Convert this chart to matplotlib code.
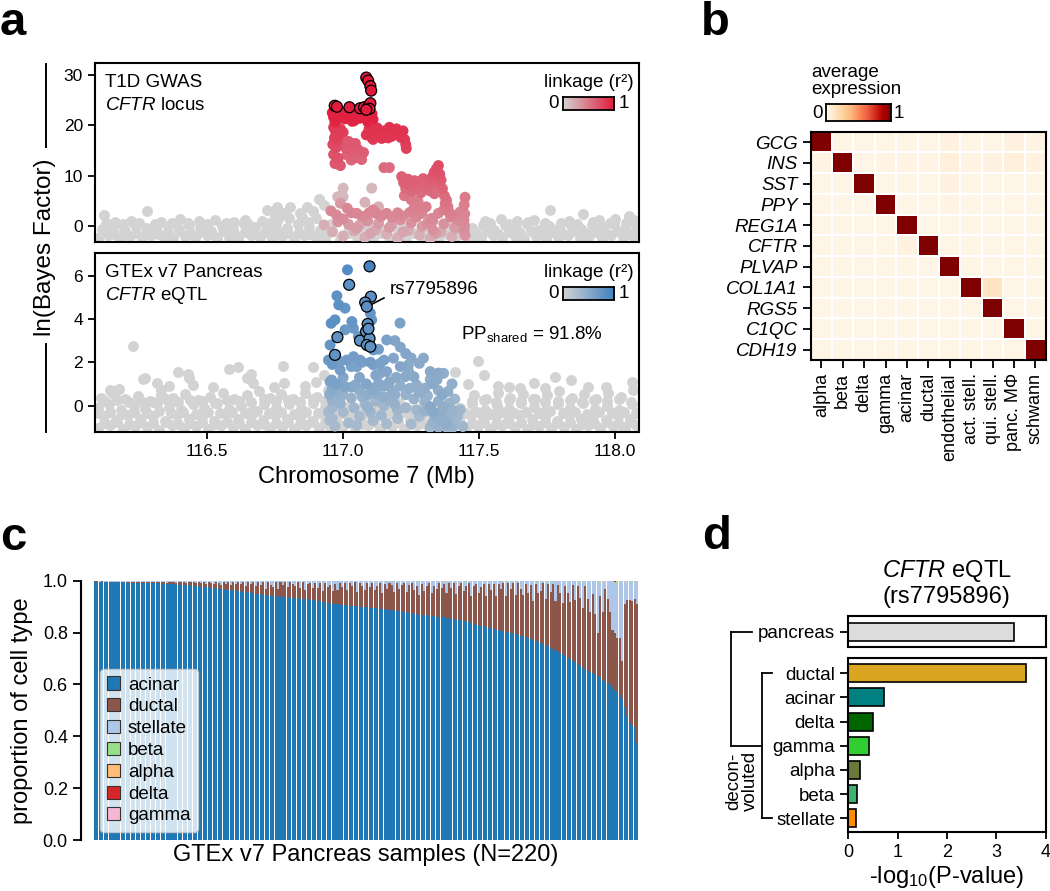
import matplotlib
matplotlib.use('Agg')
import numpy as np
import matplotlib.pyplot as plt
from matplotlib.colors import LinearSegmentedColormap
from matplotlib.patches import Patch
from matplotlib.lines import Line2D

plt.rcParams['font.family'] = ['Liberation Sans', 'DejaVu Sans']
plt.rcParams['mathtext.fontset'] = 'custom'
plt.rcParams['mathtext.rm'] = 'Liberation Sans'
plt.rcParams['mathtext.it'] = 'Liberation Sans:italic'
plt.rcParams['font.size'] = 13.5
plt.rcParams['axes.linewidth'] = 1.5
plt.rcParams['xtick.major.width'] = 1.3
plt.rcParams['ytick.major.width'] = 1.3
plt.rcParams['xtick.major.size'] = 5
plt.rcParams['ytick.major.size'] = 5

# ---------------- panel a data (Mb, ln BF) ----------------
gwas_background = [
    (116.100, -2.4), (116.135, -1.9), (116.180, -2.6), (116.215, -2.1), (116.260, -2.5),
    (116.295, -1.8), (116.340, -2.3), (116.375, -2.6), (116.420, -2.0), (116.455, -2.4),
    (116.500, -1.9), (116.535, -2.5), (116.580, -2.2), (116.615, -2.6), (116.660, -1.9),
    (116.695, -2.3), (116.740, -2.5), (116.775, -2.0), (116.820, -2.4), (116.855, -1.8),
    (116.900, -2.3), (116.935, -2.6), (116.990, -2.6), (117.050, -2.2), (117.110, -2.6),
    (117.170, -2.3), (117.230, -2.6), (117.290, -2.2), (117.350, -2.6), (117.410, -2.5),
    (117.470, -2.2), (117.505, -2.5), (117.550, -1.9), (117.585, -2.4), (117.630, -2.1),
    (117.665, -2.6), (117.710, -2.0), (117.745, -2.4), (117.790, -2.2), (117.825, -1.9),
    (117.870, -2.5), (117.905, -2.1), (117.950, -2.4), (117.985, -1.8), (118.030, -2.3),
    (118.065, -2.0),
    (116.118, -1.3), (116.158, -1.6), (116.198, -1.1), (116.238, -1.5), (116.278, -1.2),
    (116.318, -1.6), (116.358, -1.3), (116.398, -1.0), (116.438, -1.5), (116.478, -1.2),
    (116.518, -1.6), (116.558, -1.1), (116.598, -1.4), (116.638, -1.2), (116.678, -1.6),
    (116.718, -1.3), (116.758, -1.0), (116.798, -1.5), (116.838, -1.2), (116.878, -1.6),
    (116.918, -1.3), (116.958, -1.1), (117.490, -1.4), (117.530, -1.1), (117.570, -1.6),
    (117.610, -1.2), (117.650, -1.5), (117.690, -1.0), (117.730, -1.4), (117.770, -1.2),
    (117.810, -1.6), (117.850, -1.1), (117.890, -1.4), (117.930, -1.2), (117.970, -1.6),
    (118.010, -1.0), (118.050, -1.4), (118.085, -1.2), (117.020, -1.4), (117.080, -0.9),
    (117.140, -1.5), (117.200, -1.0), (117.260, -1.5), (117.320, -1.1), (117.380, -1.6),
    (117.440, -1.3),
    (116.115, -0.6), (116.155, -0.2), (116.195, -0.9), (116.235, 0.1), (116.275, -0.5),
    (116.315, -1.0), (116.355, -0.1), (116.395, -0.7), (116.435, 0.2), (116.475, -0.4),
    (116.515, -1.0), (116.555, 0.0), (116.595, -0.6), (116.635, 0.3), (116.675, -0.3),
    (116.715, -0.9), (116.755, 0.1), (116.795, -0.5), (116.835, 0.4), (116.875, -0.2),
    (116.915, -0.8), (116.955, 0.3), (117.020, -0.5), (117.100, 0.0), (117.140, -0.6),
    (117.220, -0.2), (117.300, -0.4), (117.380, 0.1), (117.420, -0.9), (117.475, -0.4),
    (117.515, 0.2), (117.555, -0.8), (117.595, 0.1), (117.635, -0.5), (117.675, 0.3),
    (117.715, -0.9), (117.755, 0.0), (117.795, -0.4), (117.835, 0.4), (117.875, -0.7),
    (117.915, 0.1), (117.955, -0.3), (117.995, 0.4), (118.035, -0.6), (118.075, 0.2),
    (116.130, 0.5), (116.190, 0.4), (116.250, 0.6), (116.310, 0.3), (116.370, 0.6),
    (116.430, 0.5), (116.500, 0.4), (116.570, 0.6), (116.650, 0.4), (116.730, 0.6),
    (116.870, 0.8), (117.540, 0.5), (117.610, 0.4), (117.680, 0.7), (117.740, 0.5),
    (117.800, 0.6), (117.860, 0.4), (117.920, 0.7), (117.980, 0.5), (118.040, 0.6),
    (116.120, 2.2), (116.280, 3.0), (116.160, 0.7), (116.220, 1.0), (116.330, 0.8),
    (116.400, 1.3), (116.470, 0.9), (116.530, 1.1), (116.600, 0.8), (116.640, 1.2),
    (116.700, 1.0), (116.760, 1.3), (116.800, 1.5), (117.520, 0.9), (117.580, 1.3),
    (117.640, 1.0), (117.700, 1.2), (117.760, 3.1), (117.830, 1.0), (117.880, 2.4),
    (117.940, 1.2), (118.000, 1.4), (118.050, 1.9), (118.070, 1.1), (116.720, 3.2),
    (116.756, 3.8), (116.805, 3.8), (116.866, 3.8), (116.890, 2.9), (116.913, 5.3),
    (116.840, 2.6), (116.780, 2.5), (116.930, 4.2), (116.900, 1.5), (116.850, 1.8),
    (116.750, 2.0),
]

# (Mb, ln BF, r2)
gwas_linked = [
    (116.960, 22.5, 0.95), (116.965, 21.6, 0.95), (116.972, 22.8, 0.95), (116.978, 21.2, 0.93),
    (116.985, 22.3, 0.95), (116.992, 21.8, 0.94), (117.000, 22.6, 0.95), (117.006, 21.3, 0.93),
    (117.012, 22.1, 0.95), (117.020, 22.7, 0.95), (117.026, 21.5, 0.94), (117.033, 20.8, 0.92),
    (117.040, 22.4, 0.95), (117.046, 21.9, 0.94), (117.053, 22.8, 0.95), (117.060, 21.4, 0.93),
    (117.066, 22.2, 0.95), (117.073, 21.7, 0.94), (117.080, 22.9, 0.96), (117.087, 21.2, 0.93),
    (117.093, 22.5, 0.95), (117.100, 21.9, 0.94), (117.106, 22.3, 0.95), (117.110, 21.2, 0.93),
    (116.970, 20.6, 0.92), (117.040, 20.9, 0.92), (117.090, 20.7, 0.92),
    (116.965, 19.6, 0.82), (116.972, 18.8, 0.8), (116.968, 17.5, 0.78), (116.978, 17.0, 0.76),
    (116.962, 16.2, 0.74), (116.975, 15.6, 0.72), (116.965, 14.2, 0.7), (116.982, 13.5, 0.68),
    (116.970, 12.4, 0.66), (116.990, 12.0, 0.65), (116.985, 18.2, 0.8), (116.990, 19.3, 0.82),
    (117.000, 18.6, 0.8),
    (117.005, 16.5, 0.66), (117.012, 15.3, 0.64), (117.020, 16.8, 0.66), (117.028, 14.8, 0.62),
    (117.035, 15.9, 0.64), (117.040, 14.0, 0.6), (117.048, 13.6, 0.6), (117.055, 15.2, 0.63),
    (117.062, 14.3, 0.6), (117.068, 13.2, 0.58), (117.075, 14.6, 0.62), (117.030, 13.1, 0.58),
    (117.015, 14.1, 0.6), (117.045, 16.4, 0.65),
    (117.085, 18.1, 0.84), (117.095, 19.2, 0.86), (117.105, 17.6, 0.83), (117.115, 18.8, 0.85),
    (117.125, 19.5, 0.86), (117.133, 18.2, 0.84), (117.142, 17.4, 0.83), (117.150, 18.9, 0.85),
    (117.160, 18.4, 0.84), (117.170, 19.6, 0.86), (117.178, 17.8, 0.84), (117.188, 18.7, 0.85),
    (117.196, 19.3, 0.86), (117.205, 18.3, 0.84), (117.212, 17.6, 0.83), (117.220, 18.9, 0.85),
    (117.226, 17.2, 0.82), (117.230, 16.2, 0.8), (117.232, 15.4, 0.78), (117.110, 17.2, 0.82),
    (117.165, 17.5, 0.83),
    (117.150, 11.6, 0.55), (117.170, 11.6, 0.55),
    (117.215, 9.8, 0.62), (117.222, 8.6, 0.6), (117.230, 7.4, 0.57), (117.238, 9.3, 0.62),
    (117.246, 8.1, 0.6), (117.255, 6.9, 0.56), (117.262, 9.0, 0.62), (117.270, 7.8, 0.58),
    (117.278, 8.7, 0.6), (117.286, 6.6, 0.55), (117.294, 9.4, 0.62), (117.302, 7.6, 0.58),
    (117.310, 8.3, 0.6), (117.318, 7.0, 0.56), (117.326, 9.6, 0.64), (117.334, 10.6, 0.68),
    (117.342, 11.3, 0.7), (117.350, 12.0, 0.72), (117.355, 10.3, 0.68), (117.360, 9.1, 0.64),
    (117.345, 8.4, 0.6), (117.335, 6.4, 0.55), (117.225, 6.0, 0.5), (117.250, 5.2, 0.48),
    (117.275, 4.9, 0.46),
    (117.365, 7.4, 0.6), (117.372, 6.0, 0.56), (117.380, 5.1, 0.52), (117.385, 3.8, 0.48),
    (117.390, 2.7, 0.45), (117.395, 1.8, 0.42), (117.375, 4.5, 0.5), (117.400, 2.2, 0.44),
    (117.370, 3.2, 0.46),
    (117.448, 5.7, 0.48), (117.445, 4.2, 0.45), (117.447, 2.4, 0.42), (117.444, 1.2, 0.4),
    (117.446, 0.1, 0.38), (117.445, -0.9, 0.36), (117.448, -1.9, 0.34),
    (116.955, 3.0, 0.4), (116.975, 2.2, 0.4), (117.000, 1.4, 0.38), (117.030, 2.6, 0.42),
    (117.050, 2.5, 0.42), (117.070, 1.9, 0.4), (117.095, 2.6, 0.42), (117.120, 2.5, 0.42),
    (117.140, 1.9, 0.4), (117.160, 2.5, 0.42), (117.180, 1.7, 0.4), (117.200, 2.6, 0.42),
    (117.220, 2.0, 0.4), (117.245, 2.7, 0.42), (117.270, 1.8, 0.4), (117.290, 2.5, 0.42),
    (117.310, 0.6, 0.38), (117.330, -0.8, 0.36), (117.325, 1.5, 0.4), (117.305, 3.8, 0.45),
    (117.280, 3.2, 0.44),
    (116.980, 0.8, 0.35), (117.020, 0.3, 0.3), (117.050, -0.5, 0.3), (117.090, 1.0, 0.35),
    (117.130, 0.5, 0.3), (117.170, -0.3, 0.3), (117.210, 1.2, 0.35), (117.250, 0.6, 0.35),
    (117.290, -0.1, 0.3), (117.330, 1.0, 0.35), (117.370, 0.4, 0.35), (117.410, -0.3, 0.3),
    (117.100, -1.5, 0.25), (117.220, -1.2, 0.25), (117.340, -1.5, 0.3), (117.420, 1.2, 0.4),
    (117.430, 2.8, 0.42), (117.350, 2.5, 0.42), (117.260, 3.5, 0.45), (117.110, 3.2, 0.42),
    (117.015, 3.5, 0.4), (116.990, 4.5, 0.3),
    (116.960, -1.2, 0.2), (117.000, -2.0, 0.2), (117.040, -1.0, 0.22), (117.080, -2.3, 0.2),
    (117.120, -0.8, 0.22), (117.160, -1.6, 0.2), (117.200, -2.4, 0.2), (117.240, -0.9, 0.22),
    (117.280, -1.8, 0.2), (117.320, -2.5, 0.2), (117.360, -1.2, 0.22), (117.400, -2.1, 0.2),
    (117.430, -0.6, 0.22), (117.060, 0.2, 0.25), (117.180, 0.3, 0.25), (116.930, 0.2, 0.2),
    (117.000, 7.5, 0.15), (117.105, 7.5, 0.15), (116.980, 5.8, 0.15), (117.000, 5.8, 0.15),
    (117.080, 4.7, 0.18), (117.130, 3.8, 0.2), (117.270, 4.2, 0.2),
]

gwas_credible = [
    (117.085, 29.5, 1.0), (117.092, 28.9, 1.0), (117.100, 27.8, 1.0), (117.103, 26.9, 1.0),
    (116.969, 23.9, 0.98), (116.977, 23.7, 0.98), (117.023, 23.6, 0.98), (117.062, 23.4, 0.98),
    (117.077, 23.6, 0.98), (117.093, 23.8, 0.98), (117.100, 24.4, 0.98), (117.097, 23.3, 0.98),
    (117.085, 23.1, 0.98),
]

eqtl_background = [
    (116.100, -1.05), (116.145, -0.9), (116.190, -1.1), (116.235, -0.95), (116.280, -1.0),
    (116.325, -1.12), (116.370, -0.88), (116.415, -1.05), (116.460, -0.95), (116.505, -1.1),
    (116.550, -0.9), (116.595, -1.0), (116.640, -1.1), (116.685, -0.92), (116.730, -1.05),
    (116.775, -0.98), (116.820, -1.1), (116.865, -0.9), (116.910, -1.02), (116.955, -1.1),
    (117.000, -0.95), (117.045, -1.05), (117.090, -0.9), (117.135, -1.08), (117.180, -0.96),
    (117.225, -1.1), (117.270, -0.92), (117.315, -1.04), (117.360, -1.12), (117.405, -0.9),
    (117.450, -1.05), (117.495, -0.95), (117.540, -1.1), (117.585, -0.88), (117.630, -1.0),
    (117.675, -1.1), (117.720, -0.93), (117.765, -1.05), (117.810, -0.97), (117.855, -1.1),
    (117.900, -0.9), (117.945, -1.04), (117.990, -0.95), (118.035, -1.1), (118.075, -0.92),
    (116.122, -0.8), (116.168, -0.75), (116.212, -0.85), (116.258, -0.78), (116.302, -0.82),
    (116.348, -0.74), (116.392, -0.86), (116.438, -0.8), (116.482, -0.76), (116.528, -0.84),
    (116.572, -0.78), (116.618, -0.82), (116.662, -0.75), (116.708, -0.85), (116.752, -0.8),
    (116.798, -0.76), (116.842, -0.84), (116.888, -0.78), (116.932, -0.82), (116.978, -0.8),
    (117.022, -0.76), (117.068, -0.84), (117.112, -0.78), (117.158, -0.82), (117.202, -0.75),
    (117.248, -0.85), (117.292, -0.8), (117.338, -0.76), (117.382, -0.84), (117.428, -0.78),
    (117.472, -0.82), (117.518, -0.75), (117.562, -0.85), (117.608, -0.8), (117.652, -0.76),
    (117.698, -0.84), (117.742, -0.78), (117.788, -0.82), (117.832, -0.75), (117.878, -0.85),
    (117.922, -0.8), (117.968, -0.76), (118.012, -0.84), (118.058, -0.78),
    (116.120, -0.5), (116.165, -0.65), (116.210, -0.45), (116.255, -0.6), (116.300, -0.5),
    (116.345, -0.7), (116.390, -0.45), (116.435, -0.6), (116.480, -0.55), (116.525, -0.7),
    (116.570, -0.4), (116.615, -0.6), (116.660, -0.5), (116.705, -0.68), (116.750, -0.45),
    (116.795, -0.6), (116.840, -0.52), (116.885, -0.7), (116.930, -0.45), (116.975, -0.62),
    (117.020, -0.55), (117.065, -0.7), (117.110, -0.48), (117.155, -0.62), (117.200, -0.5),
    (117.245, -0.66), (117.290, -0.45), (117.335, -0.6), (117.380, -0.52), (117.425, -0.7),
    (117.470, -0.45), (117.515, -0.6), (117.560, -0.5), (117.605, -0.68), (117.650, -0.42),
    (117.695, -0.6), (117.740, -0.55), (117.785, -0.7), (117.830, -0.45), (117.875, -0.62),
    (117.920, -0.5), (117.965, -0.66), (118.010, -0.48), (118.055, -0.6),
    (116.098, -0.35), (116.142, -0.28), (116.188, -0.38), (116.232, -0.3), (116.278, -0.36),
    (116.322, -0.26), (116.368, -0.34), (116.412, -0.3), (116.458, -0.38), (116.502, -0.28),
    (116.548, -0.34), (116.592, -0.3), (116.638, -0.36), (116.682, -0.26), (116.728, -0.34),
    (116.772, -0.3), (116.818, -0.38), (116.862, -0.28), (116.908, -0.34), (116.952, -0.3),
    (116.998, -0.36), (117.042, -0.28), (117.088, -0.34), (117.132, -0.3), (117.178, -0.38),
    (117.222, -0.28), (117.268, -0.34), (117.312, -0.3), (117.358, -0.36), (117.402, -0.26),
    (117.448, -0.34), (117.492, -0.3), (117.538, -0.38), (117.582, -0.28), (117.628, -0.34),
    (117.672, -0.3), (117.718, -0.36), (117.762, -0.26), (117.808, -0.34), (117.852, -0.3),
    (117.898, -0.38), (117.942, -0.28), (117.988, -0.34), (118.032, -0.3), (118.078, -0.36),
    (116.100, -0.1), (116.140, 0.05), (116.185, -0.2), (116.230, 0.0), (116.270, -0.15),
    (116.315, 0.1), (116.360, -0.05), (116.405, -0.2), (116.450, 0.05), (116.490, -0.1),
    (116.535, 0.1), (116.580, -0.15), (116.625, 0.0), (116.670, -0.2), (116.710, 0.08),
    (116.755, -0.1), (116.800, 0.05), (116.845, -0.18), (116.890, 0.1), (116.935, -0.05),
    (116.980, -0.2), (117.025, 0.0), (117.070, -0.15), (117.115, 0.05), (117.160, -0.1),
    (117.205, 0.1), (117.250, -0.2), (117.295, 0.0), (117.340, -0.12), (117.385, 0.08),
    (117.430, -0.1), (117.475, 0.05), (117.520, -0.2), (117.565, 0.0), (117.610, -0.15),
    (117.655, 0.1), (117.700, -0.05), (117.745, -0.2), (117.790, 0.05), (117.835, -0.1),
    (117.880, 0.1), (117.925, -0.15), (117.970, 0.0), (118.015, -0.2), (118.060, 0.05),
    (116.122, 0.2), (116.168, 0.25), (116.212, 0.15), (116.258, 0.22), (116.302, 0.18),
    (116.348, 0.28), (116.392, 0.16), (116.438, 0.24), (116.482, 0.2), (116.528, 0.14),
    (116.572, 0.26), (116.618, 0.2), (116.662, 0.18), (116.708, 0.3), (116.752, 0.2),
    (116.798, 0.24), (116.842, 0.16), (116.888, 0.28), (116.932, 0.22), (117.472, 0.2),
    (117.518, 0.26), (117.562, 0.16), (117.608, 0.24), (117.652, 0.2), (117.698, 0.28),
    (117.742, 0.18), (117.788, 0.22), (117.832, 0.26), (117.878, 0.16), (117.922, 0.24),
    (117.968, 0.2), (118.012, 0.28), (118.058, 0.18),
    (116.110, 0.35), (116.150, 0.6), (116.175, 0.75), (116.200, 0.3), (116.245, 0.45),
    (116.290, 0.2), (116.330, 0.5), (116.375, 0.35), (116.420, 0.55), (116.465, 0.25),
    (116.510, 0.4), (116.560, 0.6), (116.600, 0.3), (116.645, 0.5), (116.690, 0.65),
    (116.730, 0.35), (116.770, 0.55), (116.815, 0.3), (116.860, 0.6), (116.905, 0.4),
    (116.945, 0.7), (117.480, 0.5), (117.525, 0.3), (117.570, 0.6), (117.615, 0.35),
    (117.660, 0.55), (117.705, 0.3), (117.750, 0.5), (117.795, 0.65), (117.840, 0.35),
    (117.885, 0.55), (117.930, 0.3), (117.975, 0.6), (118.020, 0.4), (118.065, 0.7),
    (116.227, 2.75), (116.266, 1.22), (116.270, 1.27), (116.315, 1.03), (116.330, 0.72),
    (116.392, 1.53), (116.431, 1.45), (116.432, 1.27), (116.581, 1.70), (116.615, 1.78),
    (116.648, 1.27), (116.670, 1.03), (116.747, 0.87), (116.780, 1.81), (116.782, 1.03),
    (116.143, 0.72), (116.170, 0.72), (116.660, 1.45), (116.890, 1.80), (116.900, 1.10),
    (116.860, 0.90), (116.930, 1.40), (116.520, 0.85), (116.450, 0.95), (116.360, 0.90),
    (117.495, 2.04), (117.410, 1.57), (117.516, 1.41), (117.570, 0.90), (117.610, 0.88),
    (117.700, 1.03), (117.780, 1.34), (117.836, 1.19), (117.967, 0.88), (118.060, 1.11),
    (117.650, 0.80), (117.900, 0.85), (118.030, -0.97), (117.460, 1.00), (117.740, 0.80),
]

eqtl_linked = [
    (117.016, 6.27, 0.85), (116.977, 5.07, 0.8), (116.984, 4.65, 0.8), (117.007, 4.50, 0.75),
    (116.956, 3.80, 0.8), (116.970, 3.96, 0.8), (117.007, 3.50, 0.7), (117.038, 3.57, 0.7),
    (117.032, 3.88, 0.75), (117.056, 3.19, 0.7), (117.105, 3.96, 0.75), (117.100, 4.27, 0.75),
    (117.111, 2.57, 0.7), (117.160, 3.03, 0.6), (117.130, 2.60, 0.65), (116.952, 2.80, 0.75),
    (116.946, 2.10, 0.7), (116.960, 1.90, 0.7), (116.989, 1.64, 0.65), (117.013, 2.10, 0.65),
    (117.038, 2.26, 0.65), (117.030, 1.80, 0.6), (117.062, 2.10, 0.65), (117.100, 2.00, 0.65),
    (117.136, 1.95, 0.6), (117.209, 3.81, 0.6), (117.190, 3.00, 0.55), (117.210, 2.70, 0.55),
    (117.230, 2.40, 0.55), (117.250, 2.20, 0.5), (117.280, 1.95, 0.5), (117.295, 2.19, 0.5),
    (117.185, 2.19, 0.55), (117.210, 1.80, 0.55), (117.240, 1.88, 0.5), (117.150, 2.10, 0.6),
    (117.111, 1.88, 0.6), (117.070, 2.00, 0.6), (117.050, 1.80, 0.6), (116.989, 2.03, 0.65),
    (116.952, 1.10, 0.6), (116.975, 1.00, 0.6), (117.007, 0.87, 0.55), (117.045, 0.95, 0.5),
    (117.060, 1.30, 0.55), (117.085, 1.00, 0.55), (117.120, 1.40, 0.55), (117.150, 0.90, 0.5),
    (117.110, 0.70, 0.5), (116.950, 0.50, 0.45), (116.990, 0.10, 0.4), (116.958, 1.18, 0.6),
    (116.970, 1.00, 0.55), (117.136, 1.49, 0.55), (117.160, 1.57, 0.55), (117.130, 1.03, 0.5),
    (117.170, 1.10, 0.5), (117.195, 1.30, 0.5), (117.228, 1.33, 0.5), (117.245, 0.80, 0.45),
    (117.260, 1.33, 0.5), (117.320, 1.57, 0.5), (117.350, 1.50, 0.5), (117.369, 1.49, 0.45),
    (117.330, 1.00, 0.5), (117.300, 0.80, 0.45), (117.365, 0.50, 0.5), (117.105, 0.80, 0.5),
    (117.090, 0.50, 0.45), (117.150, 0.40, 0.45), (117.190, 0.50, 0.45), (117.070, 0.40, 0.4),
    (117.030, 0.85, 0.5), (117.000, 1.30, 0.55), (116.958, 0.70, 0.5), (116.975, 0.30, 0.4),
    (116.960, -0.10, 0.35), (117.320, -0.05, 0.5), (117.330, -0.30, 0.5), (117.345, -0.58, 0.45),
    (117.370, -0.80, 0.4), (117.380, -1.00, 0.35), (117.390, 0.10, 0.4), (117.300, 0.20, 0.4),
    (117.280, 0.60, 0.45), (117.230, -0.10, 0.35), (117.150, 0.00, 0.35), (117.100, -0.30, 0.35),
    (117.060, -0.50, 0.3), (117.020, -0.80, 0.3), (116.950, -0.70, 0.25), (117.440, -0.97, 0.35),
    (117.420, -0.50, 0.35), (117.400, -0.20, 0.4), (117.350, 0.20, 0.45), (117.260, 0.30, 0.4),
    (117.210, 0.90, 0.45), (117.180, 0.70, 0.45), (117.060, 0.70, 0.45), (117.000, 0.50, 0.4),
    (117.120, 0.20, 0.35), (117.280, -0.50, 0.3), (117.200, -0.60, 0.3), (117.360, -0.30, 0.45),
    (117.410, -0.80, 0.35), (116.946, -0.29, 0.3), (116.960, -0.60, 0.3),
    (116.970, -0.95, 0.3), (117.000, -0.30, 0.3), (117.040, -0.10, 0.35), (117.080, 0.10, 0.35),
    (117.110, -0.70, 0.3), (117.140, -0.45, 0.35), (117.170, 0.25, 0.4), (117.200, -0.20, 0.35),
    (117.230, 0.50, 0.4), (117.250, -0.85, 0.3), (117.270, -0.20, 0.35), (117.310, 0.45, 0.4),
    (117.330, -0.75, 0.4), (117.350, -1.00, 0.4), (117.370, -0.05, 0.45), (117.390, -0.45, 0.4),
    (117.410, 0.30, 0.35), (117.430, -0.20, 0.35), (117.350, 0.70, 0.45), (117.320, 1.20, 0.45),
    (117.270, 0.95, 0.45), (117.240, 1.60, 0.5), (117.190, 0.05, 0.4), (117.160, -0.85, 0.3),
    (117.050, -0.90, 0.3), (117.030, 0.35, 0.4), (116.980, 0.60, 0.45), (116.960, 0.25, 0.4),
    (117.090, -0.10, 0.4), (117.125, 0.55, 0.45), (117.345, 1.20, 0.5), (117.385, 0.65, 0.45),
    (117.400, 1.00, 0.45), (117.300, -0.25, 0.4), (117.320, -1.00, 0.35), (117.360, -0.65, 0.45),
    (117.380, -0.85, 0.45), (117.400, -1.05, 0.4),
]

eqtl_credible = [
    (117.097, 6.43, 0.95), (117.022, 5.58, 0.8), (117.102, 5.03, 0.8), (117.081, 4.76, 0.8),
    (117.087, 4.57, 0.8), (116.979, 3.16, 0.78), (116.970, 2.34, 0.78), (117.062, 3.00, 0.78),
    (117.090, 3.77, 0.8), (117.084, 3.42, 0.78), (117.097, 3.10, 0.78), (117.087, 2.80, 0.78),
    (117.100, 2.72, 0.78), (117.093, 3.55, 0.8),
]

# ---------------- panel b data ----------------
marker_genes = ['GCG', 'INS', 'SST', 'PPY', 'REG1A', 'CFTR', 'PLVAP', 'COL1A1', 'RGS5', 'C1QC', 'CDH19']
sc_cell_types = ['alpha', 'beta', 'delta', 'gamma', 'acinar', 'ductal', 'endothelial',
                 'act. stell.', 'qui. stell.', 'panc. MΦ', 'schwann']
avg_expression = [
    [1.00, 0.02, 0.02, 0.02, 0.02, 0.02, 0.04, 0.02, 0.02, 0.04, 0.03],
    [0.03, 1.00, 0.02, 0.03, 0.03, 0.03, 0.06, 0.03, 0.04, 0.06, 0.04],
    [0.02, 0.02, 1.00, 0.02, 0.02, 0.02, 0.04, 0.02, 0.02, 0.02, 0.02],
    [0.02, 0.02, 0.02, 1.00, 0.02, 0.02, 0.03, 0.02, 0.02, 0.02, 0.02],
    [0.02, 0.02, 0.02, 0.02, 1.00, 0.02, 0.02, 0.02, 0.02, 0.02, 0.02],
    [0.02, 0.02, 0.02, 0.02, 0.04, 1.00, 0.02, 0.02, 0.02, 0.02, 0.02],
    [0.02, 0.02, 0.02, 0.02, 0.02, 0.02, 1.00, 0.02, 0.02, 0.02, 0.02],
    [0.02, 0.02, 0.02, 0.02, 0.02, 0.02, 0.02, 1.00, 0.15, 0.02, 0.02],
    [0.02, 0.02, 0.02, 0.02, 0.02, 0.02, 0.02, 0.02, 1.00, 0.02, 0.02],
    [0.02, 0.02, 0.02, 0.02, 0.02, 0.02, 0.02, 0.02, 0.02, 1.00, 0.02],
    [0.02, 0.02, 0.02, 0.02, 0.02, 0.02, 0.02, 0.02, 0.02, 0.02, 1.00],
]

# ---------------- panel c data (per mille, 220 samples) ----------------
acinar_pm = [
    997, 997, 996, 996, 996, 995, 995, 995, 995, 994, 994, 994, 994, 993, 993, 993, 993, 992, 992, 992,
    992, 991, 991, 991, 990, 990, 990, 989, 989, 988, 988, 987, 987, 986, 985, 985, 984, 983, 982, 981,
    980, 979, 978, 977, 976, 975, 974, 973, 972, 971, 970, 969, 968, 966, 965, 964, 963, 962, 960, 959,
    957, 956, 955, 953, 952, 950, 949, 948, 946, 945, 944, 943, 942, 941, 940, 939, 938, 937, 936, 935,
    934, 933, 932, 931, 930, 929, 928, 927, 926, 925, 923, 921, 919, 917, 915, 913, 911, 910, 909, 908,
    907, 906, 905, 904, 903, 902, 901, 900, 899, 898, 897, 896, 895, 894, 893, 892, 891, 890, 889, 888,
    887, 886, 885, 884, 883, 881, 879, 877, 875, 873, 871, 869, 868, 867, 866, 865, 864, 863, 862, 861,
    861, 859, 857, 855, 853, 852, 850, 848, 847, 845, 843, 840, 837, 834, 831, 829, 827, 825, 822, 819,
    816, 813, 811, 809, 807, 805, 803, 801, 799, 797, 794, 791, 788, 785, 782, 779, 775, 771, 767, 763,
    759, 755, 751, 747, 742, 737, 732, 727, 722, 716, 710, 704, 698, 692, 686, 680, 673, 666, 659, 651,
    649, 645, 640, 634, 628, 617, 611, 604, 597, 590, 578, 570, 560, 545, 514, 480, 450, 440, 437, 373,
]
ductal_pm = [
    1, 1, 1, 2, 1, 2, 2, 1, 2, 2, 3, 2, 2, 3, 2, 3, 3, 2, 3, 4,
    2, 4, 3, 5, 4, 6, 5, 7, 6, 5, 8, 7, 9, 6, 10, 9, 11, 8, 12, 14,
    14, 12, 19, 15, 21, 13, 22, 18, 16, 25, 20, 14, 27, 22, 30, 18, 31, 24, 35, 28,
    38, 25, 40, 33, 44, 28, 46, 36, 50, 22, 52, 41, 35, 55, 30, 57, 45, 58, 38, 60,
    55, 48, 62, 40, 65, 35, 58, 66, 45, 68, 50, 70, 42, 75, 60, 72, 48, 78, 55, 84,
    70, 85, 60, 88, 76, 92, 55, 90, 82, 65, 95, 78, 98, 70, 85, 100, 62, 96, 80, 104,
    95, 70, 108, 85, 100, 112, 78, 105, 118, 90, 110, 75, 120, 95, 115, 125, 88, 118, 105, 130,
    110, 128, 95, 135, 118, 140, 100, 130, 145, 115, 138, 150, 105, 145, 158, 125, 150, 162, 120, 170,
    150, 175, 130, 180, 160, 185, 140, 190, 170, 195, 150, 200, 180, 160, 205, 175, 210, 150, 220, 190,
    200, 235, 180, 240, 215, 250, 190, 255, 230, 200, 270, 250, 220, 290, 240, 300, 260, 230, 320, 280,
    231, 305, 230, 166, 312, 263, 359, 326, 283, 220, 222, 210, 220, 145, 396, 445, 475, 480, 493, 537,
]
beta_samples = [118, 131, 150, 166, 178, 184, 196, 203, 211, 217]
beta_pm = [6, 5, 8, 6, 7, 10, 8, 9, 12, 8]
alpha_samples = [142, 205, 214]
alpha_pm = [4, 6, 5]
delta_samples = [210]
delta_pm = [3]

# ---------------- panel d data ----------------
pancreas_logp = 3.36
decon_types = ['ductal', 'acinar', 'delta', 'gamma', 'alpha', 'beta', 'stellate']
decon_logp = [3.61, 0.72, 0.51, 0.41, 0.24, 0.17, 0.155]
decon_colors = ['#daa520', '#008080', '#006400', '#32cd32', '#6b7a3a', '#3cb371', '#ff8c00']

W, H = 1050, 891
fig = plt.figure(figsize=(W / 100, H / 100), dpi=100)


def fx(px):
    return px / W


def fy(py):
    return 1 - py / H


# ================= panel a =================
red_cmap = LinearSegmentedColormap.from_list('ldred', ['#d3d3d3', '#e2183a'])
blue_cmap = LinearSegmentedColormap.from_list('ldblue', ['#d3d3d3', '#3f80c0'])
DOT = 62

axA1 = fig.add_axes([0.0902, 0.7284, 0.5183, 0.2009])
axA2 = fig.add_axes([0.0902, 0.5152, 0.5183, 0.2009])


def draw_locus(ax, background, linked, credible, cmap):
    bx, by = zip(*background)
    ax.scatter(bx, by, s=DOT, c='#d3d3d3', linewidths=0, zorder=2)
    linked = sorted(linked, key=lambda p: p[2])
    lx, ly, lr = zip(*linked)
    ax.scatter(lx, ly, s=DOT, c=lr, cmap=cmap, vmin=0, vmax=1, linewidths=0, zorder=3)
    cx, cy, cr = zip(*credible)
    ax.scatter(cx, cy, s=DOT, c=cr, cmap=cmap, vmin=0, vmax=1,
               edgecolors='black', linewidths=0.9, zorder=4)
    ax.set_xlim(116.087, 118.087)
    ax.tick_params(labelsize=12.5, length=5)
    # small r2 colour key
    cax = ax.inset_axes([0.8605, 0.7374, 0.0946, 0.0726])
    cax.imshow(np.linspace(0, 1, 100)[None, :], cmap=cmap, aspect='auto')
    cax.set_xticks([])
    cax.set_yticks([])
    for sp in cax.spines.values():
        sp.set_linewidth(1.3)
    ax.text(0.853, 0.775, '0', transform=ax.transAxes, ha='right', va='center', fontsize=13.5)
    ax.text(0.962, 0.775, '1', transform=ax.transAxes, ha='left', va='center', fontsize=13.5)
    ax.text(0.99, 0.89, 'linkage (r²)', transform=ax.transAxes, ha='right', va='center', fontsize=13.5)


draw_locus(axA1, gwas_background, gwas_linked, gwas_credible, red_cmap)
draw_locus(axA2, eqtl_background, eqtl_linked, eqtl_credible, blue_cmap)

axA1.set_ylim(-3.2, 32.4)
axA1.set_yticks([0, 10, 20, 30])
axA1.set_xticks([])
axA1.text(0.018, 0.89, 'T1D GWAS', transform=axA1.transAxes, ha='left', va='center', fontsize=13.5)
axA1.text(0.018, 0.765, r'$\it{CFTR}$ locus', transform=axA1.transAxes, ha='left', va='center', fontsize=13.5)

axA2.set_ylim(-1.22, 7.05)
axA2.set_yticks([0, 2, 4, 6])
axA2.set_xticks([116.5, 117.0, 117.5, 118.0])
axA2.set_xticklabels(['116.5', '117.0', '117.5', '118.0'])
axA2.set_xlabel('Chromosome 7 (Mb)', fontsize=17, labelpad=5)
axA2.text(0.018, 0.89, 'GTEx v7 Pancreas', transform=axA2.transAxes, ha='left', va='center', fontsize=13.5)
axA2.text(0.018, 0.76, r'$\it{CFTR}$ eQTL', transform=axA2.transAxes, ha='left', va='center', fontsize=13.5)
axA2.plot([117.105, 117.15], [4.68, 4.97], color='black', lw=1.2, zorder=5)
axA2.text(0.5413, 0.797, 'rs7795896', transform=axA2.transAxes, ha='left', va='center', fontsize=13.5)
axA2.text(0.673, 0.546, r'PP$_{\mathregular{shared}}$ = 91.8%', transform=axA2.transAxes,
          ha='left', va='center', fontsize=13.5)

fig.text(fx(45), fy(247.5), 'ln(Bayes Factor)', rotation=90, ha='center', va='center', fontsize=17.5)
fig.add_artist(Line2D([fx(45.7), fx(45.7)], [fy(64), fy(147)], color='black', lw=1.4))
fig.add_artist(Line2D([fx(45.7), fx(45.7)], [fy(344), fy(432)], color='black', lw=1.4))

# ================= panel b =================
axB = fig.add_axes([0.7721, 0.5960, 0.2241, 0.2562])
axB.pcolormesh(np.array(avg_expression), cmap='OrRd', vmin=0, vmax=1,
               edgecolors='white', linewidth=1.2)
axB.set_xlim(0, len(sc_cell_types))
axB.set_ylim(len(marker_genes), 0)
axB.set_xticks(np.arange(len(sc_cell_types)) + 0.5)
axB.set_xticklabels(sc_cell_types, rotation=90, fontsize=13)
axB.set_yticks(np.arange(len(marker_genes)) + 0.5)
axB.set_yticklabels(marker_genes, fontsize=13.5, style='italic')
axB.tick_params(length=6)

caxB = fig.add_axes([0.7867, 0.8642, 0.0619, 0.0191])
caxB.imshow(np.linspace(0, 1, 100)[None, :], cmap='OrRd', aspect='auto')
caxB.set_xticks([])
caxB.set_yticks([])
for sp in caxB.spines.values():
    sp.set_linewidth(1.3)
fig.text(fx(823), fy(113), '0', ha='right', va='center', fontsize=13.5)
fig.text(fx(894), fy(113), '1', ha='left', va='center', fontsize=13.5)
fig.text(fx(811), fy(81), 'average\nexpression', ha='left', va='center', fontsize=13.5, linespacing=0.95)

# ================= panel c =================
axC = fig.add_axes([0.0890, 0.0572, 0.5191, 0.2910])
n = len(acinar_pm)
samples = np.arange(n)
acinar = np.array(acinar_pm) / 1000
ductal = np.array(ductal_pm) / 1000
beta = np.zeros(n)
beta[beta_samples] = np.array(beta_pm) / 1000
alpha = np.zeros(n)
alpha[alpha_samples] = np.array(alpha_pm) / 1000
delta = np.zeros(n)
delta[delta_samples] = np.array(delta_pm) / 1000
gamma = np.zeros(n)
stellate = 1 - acinar - ductal - beta - alpha - delta - gamma

stack = [('acinar', acinar, '#1f77b4'), ('ductal', ductal, '#8c564b'),
         ('stellate', stellate, '#aec7e8'), ('beta', beta, '#98df8a'),
         ('alpha', alpha, '#ffbb78'), ('delta', delta, '#d62728'),
         ('gamma', gamma, '#f7b6d2')]
bottom = np.zeros(n)
for name, vals, col in stack:
    axC.bar(samples, vals, bottom=bottom, width=0.82, color=col, linewidth=0)
    bottom = bottom + vals

axC.set_xlim(-0.5, n - 0.5)
axC.set_ylim(0, 1)
axC.set_yticks([0, 0.2, 0.4, 0.6, 0.8, 1.0])
axC.set_yticklabels(['0.0', '0.2', '0.4', '0.6', '0.8', '1.0'])
axC.tick_params(axis='y', labelsize=13, length=6)
axC.set_xticks([])
for side in ['top', 'right', 'bottom']:
    axC.spines[side].set_visible(False)
axC.spines['left'].set_position(('outward', 9))
axC.spines['left'].set_bounds(0, 1)
axC.set_ylabel('proportion of cell type', fontsize=17, labelpad=7)
axC.set_xlabel('GTEx v7 Pancreas samples (N=220)', fontsize=17, labelpad=3)
handles = [Patch(facecolor=col, edgecolor='#333333', linewidth=0.8, label=name) for name, vals, col in stack]
axC.legend(handles=handles, loc='lower left', bbox_to_anchor=(0.0116, 0.031), borderaxespad=0,
           fontsize=13.5, handlelength=0.7, handleheight=0.7, handletextpad=0.4,
           labelspacing=0.25, borderpad=0.4, framealpha=0.8)

# ================= panel d =================
axD1 = fig.add_axes([0.8079, 0.2735, 0.1880, 0.0351])
axD2 = fig.add_axes([0.8079, 0.0659, 0.1880, 0.1953])
axD1.barh([0], [pancreas_logp], height=0.75, color='#dcdcdc', edgecolor='black', linewidth=1.2)
axD1.set_ylim(0.648, -0.648)
axD1.set_xlim(0, 4)
axD1.set_xticks([])
axD1.set_yticks([0])
axD1.set_yticklabels(['pancreas'], fontsize=13.5)
axD1.tick_params(axis='y', length=6)

axD2.barh(np.arange(len(decon_types)), decon_logp, height=0.75, color=decon_colors,
          edgecolor='black', linewidth=1.2)
axD2.set_ylim(6.58, -0.62)
axD2.set_xlim(0, 4)
axD2.set_xticks([0, 1, 2, 3, 4])
axD2.set_yticks(np.arange(len(decon_types)))
axD2.set_yticklabels(decon_types, fontsize=13.5)
axD2.tick_params(axis='y', length=6)
axD2.tick_params(axis='x', labelsize=13, length=5)
axD2.set_xlabel(r'-log$_{\mathregular{10}}$(P-value)', fontsize=17, labelpad=2)

fig.text(fx(946.7), fy(583), r'$\it{CFTR}$ eQTL' + '\n(rs7795896)', ha='center', va='center',
         fontsize=17, linespacing=1.1)

# grouping brackets
for (x0, y0), (x1, y1) in [((731, 631.7), (751.7, 631.7)), ((731, 631.7), (731, 746)),
                           ((731, 746), (761.7, 746)), ((761.7, 673.3), (761.7, 818.3)),
                           ((761.7, 673.3), (771.7, 673.3)), ((761.7, 818.3), (771.7, 818.3))]:
    fig.add_artist(Line2D([fx(x0), fx(x1)], [fy(y0), fy(y1)], color='black', lw=1.3))
fig.text(fx(742), fy(781), 'decon-\nvoluted', rotation=90, ha='center', va='center',
         fontsize=13.5, linespacing=0.95)

# panel letters
for letter, px, py in [('a', 0, 35), ('b', 701, 35), ('c', 0, 550), ('d', 701.7, 549)]:
    fig.text(fx(px), fy(py), letter, fontsize=34, fontweight='bold', ha='left', va='baseline')

fig.savefig('out.png', dpi=100)
